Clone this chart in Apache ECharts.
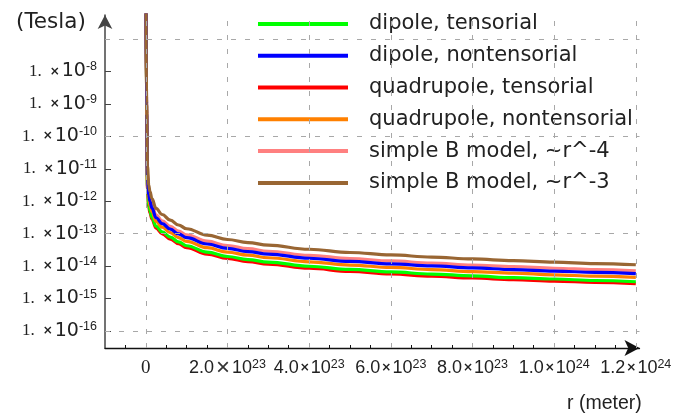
<!DOCTYPE html>
<html><head><meta charset="utf-8">
<script src="https://cdn.jsdelivr.net/npm/echarts@6/dist/echarts.min.js"></script>
<style>html,body{margin:0;padding:0;background:#fff}#c{width:687px;height:413px}</style>
</head><body><div id="c"></div>
<script>
// radius (meter)
const rMeter = [5e20, 2e21, 4e21, 7e21, 1e22, 1.5e22, 2.5e22, 4e22, 6e22, 8e22, 1e23, 1.5e23, 2e23, 2.5e23, 3e23, 4e23, 5e23, 6e23, 7e23, 8e23, 9e23, 1e24, 1.1e24, 1.2e24];
// field (Tesla)
const dipoleTensorial      = [1e-6, 2.5e-10, 2.8e-12, 8e-13, 5e-13, 3.2e-13, 1.7e-13, 1.14e-13, 7.8e-14, 5.6e-14, 4.25e-14, 2.7e-14, 1.98e-14, 1.59e-14, 1.33e-14, 9.9e-15, 7.9e-15, 6.6e-15, 5.7e-15, 5e-15, 4.4e-15, 4e-15, 3.6e-15, 3.3e-15];
const dipoleNontensorial   = [1e-6, 5e-10, 5.5e-12, 1.6e-12, 1e-12, 6.2e-13, 3.1e-13, 2.05e-13, 1.38e-13, 9.8e-14, 7.5e-14, 4.8e-14, 3.5e-14, 2.8e-14, 2.34e-14, 1.75e-14, 1.39e-14, 1.17e-14, 1.01e-14, 8.8e-15, 7.8e-15, 7e-15, 6.4e-15, 5.85e-15];
const quadTensorial        = [1e-6, 2.2e-10, 2.4e-12, 7e-13, 4.4e-13, 2.8e-13, 1.48e-13, 9.9e-14, 6.8e-14, 4.9e-14, 3.7e-14, 2.35e-14, 1.72e-14, 1.38e-14, 1.15e-14, 8.6e-15, 6.9e-15, 5.75e-15, 4.9e-15, 4.3e-15, 3.85e-15, 3.45e-15, 3.15e-15, 2.86e-15];
const quadNontensorial     = [1e-6, 3.5e-10, 4e-12, 1.2e-12, 7.5e-13, 4.7e-13, 2.4e-13, 1.58e-13, 1.07e-13, 7.6e-14, 5.8e-14, 3.7e-14, 2.7e-14, 2.17e-14, 1.81e-14, 1.36e-14, 1.08e-14, 9.1e-15, 7.8e-15, 6.8e-15, 6.1e-15, 5.4e-15, 4.9e-15, 4.5e-15];
const simpleR4             = [1e-6, 7e-10, 7e-12, 2e-12, 1.25e-12, 7.6e-13, 3.8e-13, 2.5e-13, 1.68e-13, 1.2e-13, 9.2e-14, 5.85e-14, 4.3e-14, 3.45e-14, 2.87e-14, 2.15e-14, 1.71e-14, 1.44e-14, 1.24e-14, 1.08e-14, 9.6e-15, 8.6e-15, 7.8e-15, 7.2e-15];
const simpleR3             = [1e-6, 1e-9, 1.2e-11, 3.2e-12, 2e-12, 1.2e-12, 6e-13, 3.9e-13, 2.6e-13, 1.85e-13, 1.42e-13, 9e-14, 6.6e-14, 5.3e-14, 4.42e-14, 3.31e-14, 2.63e-14, 2.21e-14, 1.9e-14, 1.66e-14, 1.48e-14, 1.32e-14, 1.2e-14, 1.1e-14];

const seriesNames = ['dipole, tensorial', 'dipole, nontensorial', 'quadrupole, tensorial', 'quadrupole, nontensorial', 'simple B model, ~r^-4', 'simple B model, ~r^-3'];
const seriesValues = [dipoleTensorial, dipoleNontensorial, quadTensorial, quadNontensorial, simpleR4, simpleR3];
const seriesColors = ['#00ff00', '#0000ff', '#ff0000', '#ff8000', '#ff8080', '#996633'];
const drawOrder = [2, 0, 3, 4, 1, 5];

// ticks and gridlines
const yTickExponents = [-8, -9, -10, -11, -12, -13, -14, -15, -16];
const yGridExponents = [-7, -10, -13, -16];
const xTickValues = [0, 2e23, 4e23, 6e23, 8e23, 1e24, 1.2e24];
const xMinorTickValues = [-5e22, 5e22, 1e23, 1.5e23, 2.5e23, 3e23, 3.5e23, 4.5e23, 5e23, 5.5e23, 6.5e23, 7e23, 7.5e23, 8.5e23, 9e23, 9.5e23, 1.05e24, 1.1e24, 1.15e24];

const X_MIN = -1e23, X_MAX = 1.209e24;
const Y_MIN_EXP = -16.524, Y_MAX_EXP = -6.26;
const Y_MIN = Math.pow(10, Y_MIN_EXP), Y_MAX = Math.pow(10, Y_MAX_EXP);

const chart = echarts.init(document.getElementById('c'), null, {renderer: 'canvas'});

const series = drawOrder.map(i => ({
  name: seriesNames[i],
  type: 'line',
  xAxisIndex: 0,
  yAxisIndex: 0,
  data: rMeter.map((r, k) => [r, seriesValues[i][k]]),
  showSymbol: false,
  symbol: 'none',
  smooth: 0.4,
  smoothMonotone: 'x',
  lineStyle: {color: seriesColors[i], width: 3.2},
  itemStyle: {color: seriesColors[i]},
  z: 3,
  silent: true
}));
// dashed gridlines
series.unshift({
  type: 'line', name: 'grid', xAxisIndex: 0, yAxisIndex: 1, data: [], z: 1, silent: true,
  markLine: {
    silent: true, symbol: ['none', 'none'], label: {show: false}, animation: false,
    lineStyle: {type: [5, 9], color: '#a8a8a8', width: 1},
    emphasis: {disabled: true},
    data: yGridExponents.map(v => ({yAxis: v})).concat(xTickValues.map(v => ({xAxis: v})))
  }
});

function xLabel(v) {
  if (Math.abs(v) < 1e20) return '{z|0}';
  const k = xTickValues.findIndex(t => Math.abs(t - v) < 1e21);
  if (k < 0) return '';
  const e = v >= 9.99e23 ? 24 : 23;
  const m = (v / Math.pow(10, e)).toFixed(1);
  const times = k === 1 ? '{xt|×}' : '{xb|×}';
  return '{n|' + m + '}' + times + '{n|10}{sup|' + e + '}';
}

function yLabel(v) {
  const e = Math.round(v);
  if (Math.abs(v - e) > 1e-6 || yTickExponents.indexOf(e) < 0) return '';
  return '{s|1.}{x|×}{t|10}{sup|' + e + '}';
}

chart.setOption({
  animation: false,
  backgroundColor: '#fff',
  grid: {left: 105, right: 47.5, top: 15, bottom: 65, containLabel: false},
  legend: {
    orient: 'vertical', left: 258, top: 8, padding: 0, itemGap: 0,
    itemWidth: 90, itemHeight: 4, icon: 'rect', selectedMode: false,
    data: seriesNames,
    textStyle: {fontFamily: 'DejaVu Sans', fontSize: 21, color: '#222', lineHeight: 31.8, padding: [0, 0, 0, 16]}
  },
  xAxis: [
    {
      type: 'value', min: X_MIN, max: X_MAX,
      axisLine: {onZero: false, symbol: ['none', 'arrow'], symbolSize: [12, 15], lineStyle: {color: '#111', width: 1.3}},
      axisTick: {inside: true, length: 5, customValues: xTickValues, lineStyle: {color: '#111'}},
      minorTick: {show: false},
      splitLine: {show: false},
      axisLabel: {
        margin: 10, customValues: xTickValues, formatter: xLabel, color: '#222',
        fontFamily: 'Liberation Sans', fontSize: 18,
        rich: {
          z: {fontFamily: 'Liberation Serif', fontSize: 19, lineHeight: 20, color: '#222'},
          n: {fontFamily: 'Liberation Sans', fontSize: 18, lineHeight: 20, color: '#222'},
          xt: {fontFamily: 'Liberation Sans', fontSize: 24, lineHeight: 20, color: '#333', padding: [0, 2, 0, 2]},
          xb: {fontFamily: 'DejaVu Sans', fontWeight: 'bold', fontSize: 12, lineHeight: 20, color: '#222', padding: [0, 1, 0, 1]},
          sup: {fontFamily: 'Liberation Sans', fontSize: 12.5, lineHeight: 12, verticalAlign: 'top', color: '#222'}
        }
      }
    },
    {
      type: 'value', min: X_MIN, max: X_MAX, position: 'bottom', offset: 0,
      axisLine: {show: false, onZero: false},
      axisTick: {inside: true, length: 3, customValues: xMinorTickValues, lineStyle: {color: '#111'}},
      axisLabel: {show: false},
      splitLine: {show: false}
    }
  ],
  yAxis: [
    {
      type: 'log', logBase: 10, min: Y_MIN, max: Y_MAX, position: 'left', offset: 0,
      axisLine: {show: true, onZero: false, symbol: ['none', 'arrow'], symbolSize: [11, 14], lineStyle: {color: '#444', width: 1.5}},
      axisTick: {show: false}, axisLabel: {show: false}, splitLine: {show: false}, minorTick: {show: false}
    },
    {
      type: 'value', min: Y_MIN_EXP, max: Y_MAX_EXP, position: 'left', offset: 0,
      axisLine: {show: false, onZero: false},
      axisTick: {show: true, inside: true, length: 6, customValues: yTickExponents, lineStyle: {color: '#444'}},
      splitLine: {show: false},
      axisLabel: {
        margin: 8, customValues: yTickExponents, formatter: yLabel, color: '#222',
        fontFamily: 'DejaVu Sans', fontSize: 19,
        rich: {
          s: {fontFamily: 'Liberation Serif', fontSize: 17, lineHeight: 22, color: '#222', padding: [0, 8, 0, 0]},
          x: {fontFamily: 'DejaVu Sans', fontWeight: 'bold', fontSize: 12, lineHeight: 22, color: '#222', padding: [0, 2, 0, 0]},
          t: {fontFamily: 'DejaVu Sans', fontSize: 19, lineHeight: 22, color: '#222'},
          sup: {fontFamily: 'Liberation Sans', fontSize: 12.5, lineHeight: 12, verticalAlign: 'top', color: '#222'}
        }
      }
    }
  ],
  graphic: [
    {type: 'text', left: 16, top: 11, style: {text: '(Tesla)', font: '21.5px "DejaVu Sans", sans-serif', fill: '#222'}},
    {type: 'text', left: 567, top: 394, style: {text: 'r (meter)', font: '19.5px "Liberation Sans", sans-serif', fill: '#222'}}
  ],
  series: series
});
</script>
</body></html>
